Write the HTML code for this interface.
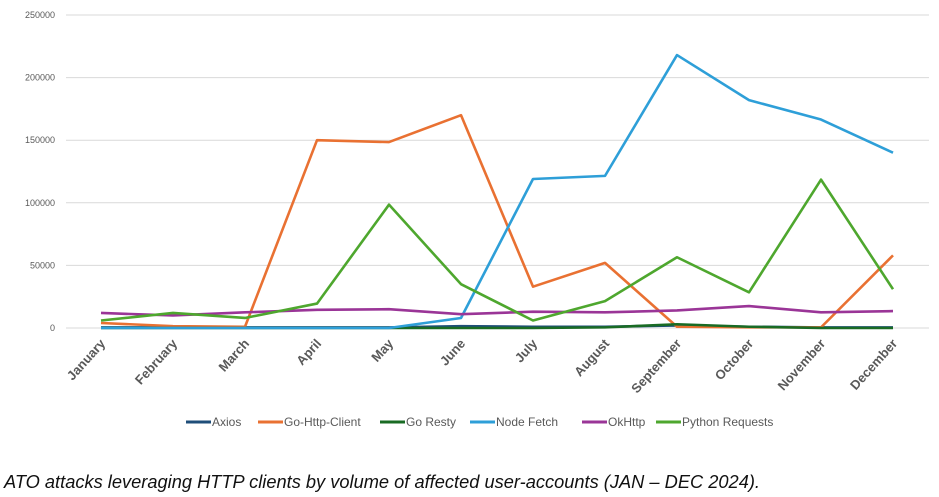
<!DOCTYPE html>
<html><head><meta charset="utf-8"><style>
body{margin:0;background:#fff;width:939px;height:497px;overflow:hidden;font-family:"Liberation Sans",sans-serif}
svg{display:block}
</style></head><body>
<svg id="chart" width="939" height="497" xmlns="http://www.w3.org/2000/svg">
<g id="grid"></g>
<g id="yaxis"></g>
<g id="xaxis"></g>
<g id="series"></g>
<g id="legend"></g>
<text x="4" y="488" font-size="18" font-style="italic" fill="#111" textLength="756" lengthAdjust="spacingAndGlyphs">ATO attacks leveraging HTTP clients by volume of affected user-accounts (JAN – DEC  2024).</text>
</svg>
<script>
const months=["January","February","March","April","May","June","July","August","September","October","November","December"];
const yTicks=[0,50000,100000,150000,200000,250000];
const seriesNames=["Axios","Go-Http-Client","Go Resty","Node Fetch","OkHttp","Python Requests"];
const seriesColors=["#1f4e79","#e97132","#196b24","#2e9fd8","#9a3597","#4ea72e"];
const axios=[500,500,500,500,500,1500,1000,1000,2000,1000,500,500];
const goHttp=[4000,1500,1000,150000,148500,170000,33000,52000,1000,500,500,58000];
const goResty=[0,0,0,0,0,0,0,500,3000,1000,0,0];
const nodeFetch=[0,0,0,0,0,8000,119000,121500,218000,182000,166500,140000];
const okHttp=[12000,10000,12500,14500,15000,11000,13000,12500,14000,17500,12500,13500];
const python=[6000,12000,8000,19500,98500,35000,6000,21500,56500,28500,118500,31000];
const seriesData=[axios,goHttp,goResty,nodeFetch,okHttp,python];
const NS="http://www.w3.org/2000/svg";
const y0=328,y1=15,ymax=250000,x0=101,dx=72;
function yS(v){return y0-(v/ymax)*(y0-y1);}
function xS(i){return x0+i*dx;}
function mk(tag,attrs,parent){const e=document.createElementNS(NS,tag);for(const k in attrs)e.setAttribute(k,attrs[k]);parent.appendChild(e);return e;}
const grid=document.getElementById('grid'),ya=document.getElementById('yaxis'),xa=document.getElementById('xaxis'),sg=document.getElementById('series'),lg=document.getElementById('legend');
yTicks.forEach(t=>{
 const l=mk('line',{x1:66,x2:929,y1:yS(t),y2:yS(t),stroke:'#d9d9d9','stroke-width':1},grid);
 
 
 const tx=mk('text',{x:55,y:yS(t)+3,'text-anchor':'end','font-size':9,fill:'#595959'},ya);
 
 
 tx.textContent=t;
});
months.forEach((m,i)=>{
 const tx=mk('text',{x:xS(i)+5,y:344,'text-anchor':'end','font-size':13,'font-weight':'bold',fill:'#595959',transform:`rotate(-48 ${xS(i)+5} 344)`},xa);
 
 
 tx.textContent=m;
});
seriesData.forEach((d,s)=>{
 const p=mk('polyline',{points:d.map((v,i)=>xS(i)+','+yS(v)).join(' '),fill:'none',stroke:seriesColors[s],'stroke-width':2.6,'stroke-linejoin':'round'},sg);
 
 
});
const lx=[186,258,380,470,582,656];
seriesNames.forEach((n,s)=>{
 const g=mk('g',{},lg);
 
 
 mk('line',{x1:lx[s],x2:lx[s]+25,y1:422,y2:422,stroke:seriesColors[s],'stroke-width':3},g);
 const t=mk('text',{x:lx[s]+26,y:426,'font-size':12,fill:'#595959'},g);
 t.textContent=n;
});
</script>
</body></html>
